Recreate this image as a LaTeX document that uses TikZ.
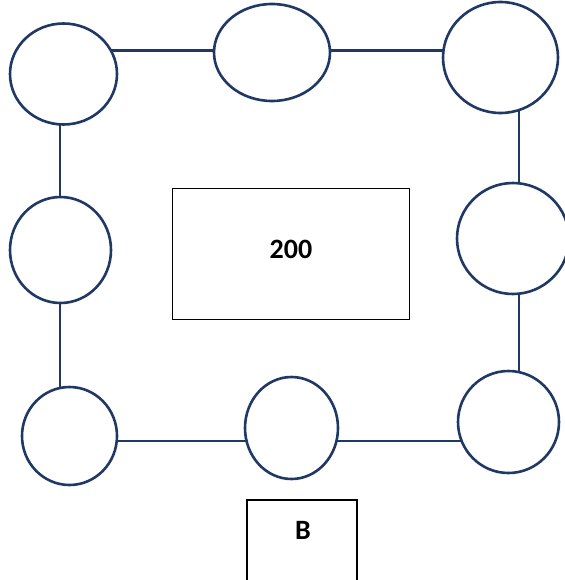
\documentclass[tikz,border=0pt]{standalone}
\usepackage{fontspec}
\setmainfont{Carlito}
\usetikzlibrary{backgrounds,shapes.geometric}
\definecolor{navy}{RGB}{32,56,100}
\tikzset{
  ring/.style={draw=navy, line width=2.6pt, fill=white, ellipse, inner sep=0pt},
  link/.style={draw=navy, line width=2.6pt},
  bigtext/.style={font=\fontsize{28}{32}\selectfont\bfseries}
}
\begin{document}
\begin{tikzpicture}[x=1pt,y=-1pt]
\useasboundingbox (0,0) rectangle (564,580);
\newcommand{\ring}[5]{\node[ring, minimum width=#4pt, minimum height=#5pt] (#1) at (#2,#3) {};}
\ring{c1}{63.5}{74}{107}{101}
\ring{c2}{272}{52.5}{116}{97}
\ring{c3}{500.5}{57.5}{115}{111}
\ring{c4}{513}{238.5}{112}{111}
\ring{c5}{60.5}{250}{101}{106}
\ring{c6}{69.5}{436}{95}{98}
\ring{c7}{291.5}{428}{93}{102}
\ring{c8}{508.5}{422}{101}{102}
\node[draw=black, line width=0.9pt, minimum width=237pt, minimum height=131pt, inner sep=0pt] (mid) at (290.5,253.5) {};
\node[bigtext] (t200) at (291,249) {200};
\node[draw=black, line width=2pt, minimum width=110pt, minimum height=100pt, inner sep=0pt] (bbox) at (302,550) {};
\node[bigtext] (tB) at (303,530) {B};
\coordinate (xr) at (519,0);
\coordinate (xl) at (60,0);
\coordinate (yt) at (0,50.7);
\coordinate (yb) at (0,441);
\begin{scope}[on background layer]
  \draw[link] (c1.center |- yt) -- (c2.center |- yt);
  \draw[link] (c2.center |- yt) -- (c3.center |- yt);
  \draw[link] (c3.center -| xr) -- (c4.center -| xr);
  \draw[link] (c4.center -| xr) -- (c8.center -| xr);
  \draw[link] (c1.center -| xl) -- (c5.center -| xl);
  \draw[link] (c5.center -| xl) -- (c6.center -| xl);
  \draw[link] (c6.center |- yb) -- (c7.center |- yb);
  \draw[link] (c7.center |- yb) -- (c8.center |- yb);
\end{scope}
\end{tikzpicture}
\end{document}
